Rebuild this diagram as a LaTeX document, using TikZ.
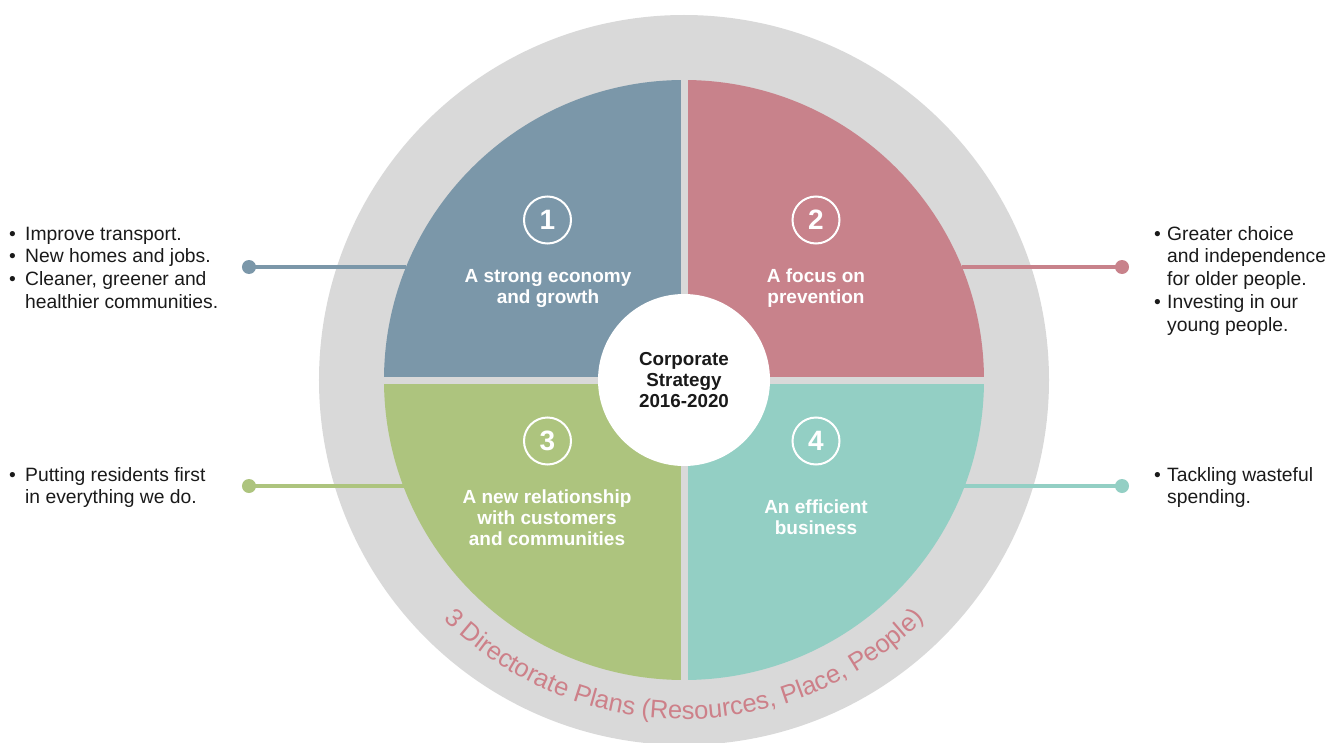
\documentclass[tikz,border=0pt]{standalone}
\usepackage{fontspec}
\setmainfont{Liberation Sans}
\usetikzlibrary{decorations.text}

\definecolor{quadblue}{HTML}{7B97A9}
\definecolor{quadpink}{HTML}{C8828B}
\definecolor{quadgreen}{HTML}{ADC47E}
\definecolor{quadteal}{HTML}{93CFC4}
\definecolor{ringgray}{HTML}{D9D9D9}
\definecolor{ringtext}{HTML}{CD8089}
\definecolor{textdark}{HTML}{1A1A1A}

\tikzset{
  quadlabel/.style={text=white, font=\bfseries\fontsize{19}{21}\selectfont, align=center, inner sep=0pt},
  numcircle/.style={circle, draw=white, line width=2pt, minimum size=47pt, inner sep=0pt, text=white, font=\bfseries\fontsize{28}{28}\selectfont},
  bullets/.style={anchor=base west, inner sep=0pt, text=textdark, font=\fontsize{19.3}{22.8}\selectfont},
  connector/.style={line width=4pt},
  enddot/.style={circle, inner sep=0pt, minimum size=14pt},
}

\begin{document}
\begin{tikzpicture}[x=1pt, y=1pt]
      \useasboundingbox (-684,-362) rectangle (656,380);

      % Ring and quadrants
      \fill[ringgray] (0,0) circle (365);
      \fill[quadblue] (0,0) -- (180:300) arc (180:90:300) -- cycle;
      \fill[quadpink] (0,0) -- (90:300) arc (90:0:300) -- cycle;
      \fill[quadgreen] (0,0) -- (180:300) arc (180:270:300) -- cycle;
      \fill[quadteal] (0,0) -- (270:300) arc (270:360:300) -- cycle;
      \draw[ringgray, line width=7pt] (0,-305) -- (0,305) (-305,0) -- (305,0);

      % Nodes
      \node[circle, fill=white, minimum size=172pt, inner sep=0pt, align=center, text=textdark, font=\bfseries\fontsize{18.8}{21}\selectfont] at (0,0) (core) {Corporate\\Strategy\\2016-2020};

      \node[numcircle] at (-136.5,160) (n1) {1};
      \node[numcircle] at (132,160) (n2) {2};
      \node[numcircle] at (-136.5,-61) (n3) {3};
      \node[numcircle] at (132,-61) (n4) {4};

      \node[quadlabel] at (-136,92) (l1) {A strong economy\\and growth};
      \node[quadlabel] at (132,92) (l2) {A focus on\\prevention};
      \node[quadlabel] at (-137,-138) (l3) {A new relationship\\with customers\\and communities};
      \node[quadlabel] at (132,-137.5) (l4) {An efficient\\business};

      \node[bullets] at (-675,140) (b1) {\begin{tabular}[t]{@{}p{16pt}@{}l@{}}\textbullet & Improve transport.\\ \textbullet & New homes and jobs.\\ \textbullet & Cleaner, greener and\\ & healthier communities.\end{tabular}};
      \node[bullets] at (470,140) (b2) {\begin{tabular}[t]{@{}p{13pt}@{}l@{}}\textbullet & Greater choice\\ & and independence\\ & for older people.\\ \textbullet & Investing in our\\ & young people.\end{tabular}};
      \node[bullets] at (-675,-101) (b3) {\begin{tabular}[t]{@{}p{16pt}@{}l@{}}\textbullet & Putting residents first\\ & in everything we do.\end{tabular}};
      \node[bullets] at (470,-101) (b4) {\begin{tabular}[t]{@{}p{13pt}@{}l@{}}\textbullet & Tackling wasteful\\ & spending.\end{tabular}};

      % Connectors
      \node[enddot, fill=quadblue] at (-435,113) (d1) {};
      \node[enddot, fill=quadpink] at (438,113) (d2) {};
      \node[enddot, fill=quadgreen] at (-435,-106) (d3) {};
      \node[enddot, fill=quadteal] at (438,-106) (d4) {};
      \coordinate (e1) at (-278,113);
      \coordinate (e2) at (278,113);
      \coordinate (e3) at (-280,-106);
      \coordinate (e4) at (280,-106);
      \draw[connector, quadblue] (d1.center) -- (e1);
      \draw[connector, quadpink] (d2.center) -- (e2);
      \draw[connector, quadgreen] (d3.center) -- (e3);
      \draw[connector, quadteal] (d4.center) -- (e4);

      % Ring text
      \path[decorate, decoration={text along path, text align=center, text={|\fontsize{25.5}{25.5}\selectfont\color{ringtext}|3 Directorate Plans (Resources{,} Place{,} People)}}] (200:339) arc (200:340:339);
    \end{tikzpicture}
\end{document}
